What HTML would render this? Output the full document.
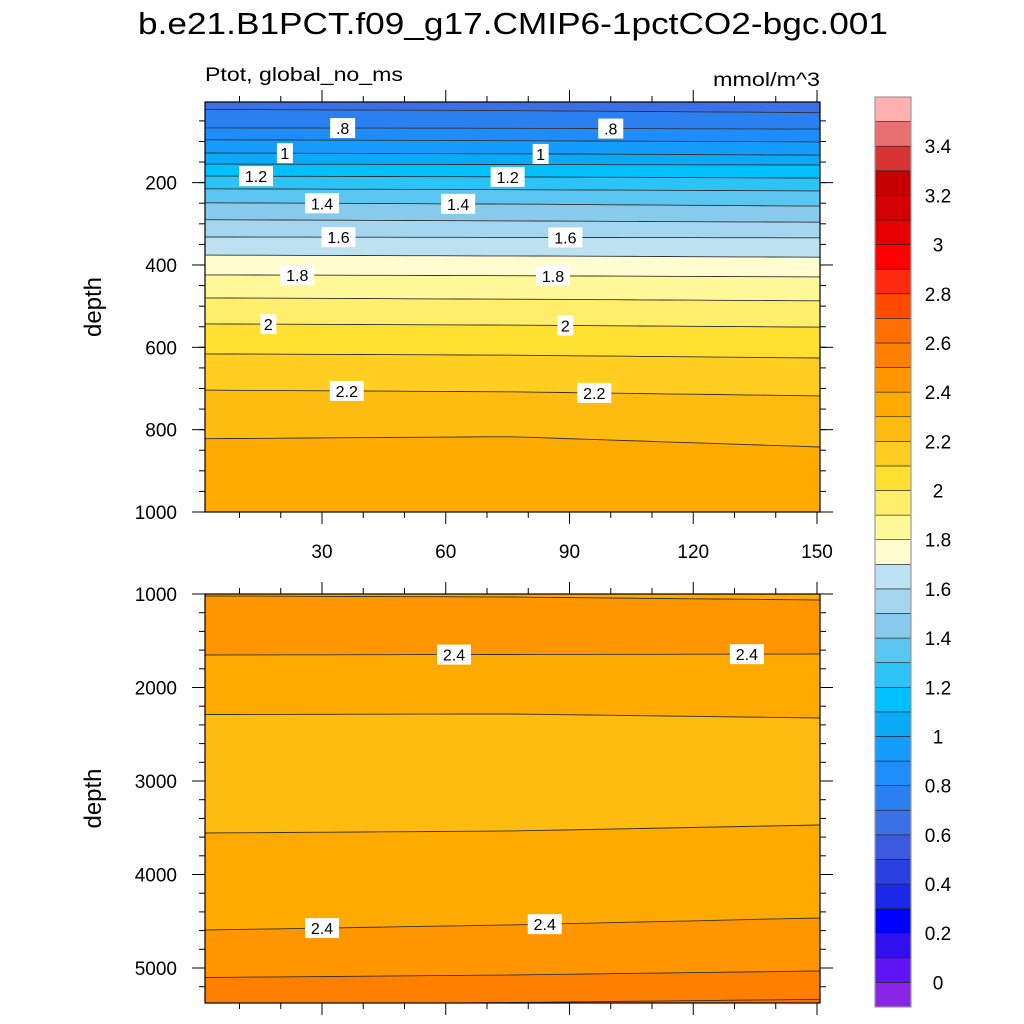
<!DOCTYPE html>
<html><head><meta charset="utf-8"><style>
html,body{margin:0;padding:0;background:#fff;}
svg{display:block;font-family:"Liberation Sans",Arial,sans-serif;}
</style></head><body>
<svg id="chart" width="1024" height="1024" viewBox="0 0 1024 1024" xmlns="http://www.w3.org/2000/svg">
<text x="138" y="34" font-size="31" textLength="750" lengthAdjust="spacingAndGlyphs">b.e21.B1PCT.f09_g17.CMIP6-1pctCO2-bgc.001</text>
<text x="205" y="81" font-size="19" textLength="198" lengthAdjust="spacingAndGlyphs">Ptot, global_no_ms</text>
<text x="713" y="86" font-size="19" textLength="107" lengthAdjust="spacingAndGlyphs">mmol/m^3</text>
<g id="top"></g>
<g id="bot"></g>
<g id="cbar"></g>
</svg>
<script>
// colour per band (index 0 = below 0, index k = [(k-1)*0.1, k*0.1))
const bandColors = ["#8a24e6","#6014f5","#3010ee","#0000ff","#1a28ea","#2a40e0","#3c5ae0","#3c70e6","#2a80f0","#1e8cfa","#149cff","#0aaaf8","#00c0ff","#2cc4f6","#5cc6f2","#88caec","#a4d6f0","#bce2f2","#fffdd0","#fff898","#ffee6a","#ffe030","#ffce20","#ffbc10","#ffaa00","#ff9600","#ff8000","#ff6e00","#ff4a00","#ff2a10","#ff0000","#e60000","#d20000","#c40000","#d83434","#e87070","#ffb0b0"];
const cbarLabels = ["0","0.2","0.4","0.6","0.8","1","1.2","1.4","1.6","1.8","2","2.2","2.4","2.6","2.8","3","3.2","3.4"];
const years = [1.5, 75, 150.6];
// upper panel contour lines: level and depth at left, mid, right
const topLevels = [0.7,0.8,0.9,1.0,1.1,1.2,1.3,1.4,1.5,1.6,1.7,1.8,1.9,2.0,2.1,2.2,2.3];
const topLeft  = [22,67,96,128,155,184,215,249,290,332,376,424,480,543,616,704,822];
const topMid   = [25,68,98,130,156,186,217,252,293,333,378,426,483,546,619,708,817];
const topRight = [30,70,101,133,157,189,220,257,296,334,381,429,487,551,626,718,842];
const topBelowBand = [8,9,10,11,12,13,14,15,16,17,18,19,20,21,22,23,24];
const topAboveBand = 7;
// lower panel contour lines
const botLevels = [2.4,2.4,2.3,2.3,2.4,2.5,2.6];
const botLeft  = [1021,1652,2289,3556,4594,5102,5390];
const botMid   = [1032,1647,2283,3535,4540,5075,5370];
const botRight = [1064,1642,2326,3471,4465,5032,5335];
const botBelowBand = [25,24,23,24,25,26,27];
const botAboveBand = 24;
const topLabels = [[35,".8",1],[100,".8",1],[21,"1",3],[83,"1",3],[14,"1.2",5],[75,"1.2",5],[30,"1.4",7],[63,"1.4",7],[34,"1.6",9],[89,"1.6",9],[24,"1.8",11],[86,"1.8",11],[17,"2",13],[89,"2",13],[36,"2.2",15],[96,"2.2",15]];
const botLabels = [[62,"2.4",1],[133,"2.4",1],[30,"2.4",4],[84,"2.4",4]];

const NS="http://www.w3.org/2000/svg";
function mk(parent,tag,attrs,txt){const e=document.createElementNS(NS,tag);for(const k in attrs)e.setAttribute(k,attrs[k]);if(txt!==undefined)e.textContent=txt;parent.appendChild(e);return e;}
const X0=205,X1=820;
function xs(yr){return 198.25+4.125*yr;}
function interp(yr,arrs,i){const l=arrs[0][i],m=arrs[1][i],r=arrs[2][i];
  if(yr<=75){return l+(m-l)*(yr-years[0])/(75-years[0]);}return m+(r-m)*(yr-75)/(years[2]-75);}

function panel(g,cfg){
  const {yTop,yBot,ys,arrs,aboveBand,belowBand,labels,yMajor,yMinor,yLabels,xLabels,name}=cfg;
  const clipId=name+"-clip";
  const cp=mk(g,"clipPath",{id:clipId});mk(cp,"rect",{x:X0,y:yTop,width:X1-X0,height:yBot-yTop});
  const fills=mk(g,"g",{"clip-path":`url(#${clipId})`});
  const bg=mk(fills,"rect",{x:X0,y:yTop,width:X1-X0,height:yBot-yTop,fill:bandColors[aboveBand]});
  
  
  const n=arrs[0].length;
  const lines=[];
  for(let i=0;i<n;i++){
    const pts=[];
    for(let s=0;s<=24;s++){const yr=years[0]+(years[2]-years[0])*s/24;pts.push([xs(yr),ys(interp(yr,arrs,i))]);}
    lines.push(pts);
    const poly=pts.map(p=>p[0].toFixed(1)+","+p[1].toFixed(1)).join(" ")+` ${X1+10},${yBot+20} ${X0-10},${yBot+20}`;
    const pg=mk(fills,"polygon",{points:poly,fill:bandColors[belowBand[i]]});
    
    
  }
  for(let i=0;i<n;i++){
    const pl=mk(fills,"polyline",{points:lines[i].map(p=>p[0].toFixed(1)+","+p[1].toFixed(1)).join(" "),fill:"none",stroke:"#333","stroke-width":"0.9"});
    
    
  }
  labels.forEach(([yr,t,i])=>{
    const x=xs(yr),y=ys(interp(yr,arrs,i));
    const w=t.length*9+7;
    const lg=mk(g,"g",{});
    
    
    mk(lg,"rect",{x:x-w/2,y:y-10,width:w,height:20,fill:"#fff"});
    mk(lg,"text",{x:x,y:y+6,"font-size":"16","text-anchor":"middle"},t);
  });
  const fr=mk(g,"rect",{x:X0,y:yTop,width:X1-X0,height:yBot-yTop,fill:"none",stroke:"#000","stroke-width":"1.2"});
  
  
  const tk=mk(g,"g",{stroke:"#000","stroke-width":"1"});
  for(let yr=10;yr<=150;yr+=10){const x=xs(yr);const L=yr%30===0?12:6;
    mk(tk,"line",{x1:x,y1:yTop,x2:x,y2:yTop-L});mk(tk,"line",{x1:x,y1:yBot,x2:x,y2:yBot+L});}
  yMinor.forEach(d=>{const y=ys(d);mk(tk,"line",{x1:X0,y1:y,x2:X0-6,y2:y});mk(tk,"line",{x1:X1,y1:y,x2:X1+6,y2:y});});
  yMajor.forEach(d=>{const y=ys(d);mk(tk,"line",{x1:X0,y1:y,x2:X0-13,y2:y});mk(tk,"line",{x1:X1,y1:y,x2:X1+13,y2:y});});
  yLabels.forEach((t,i)=>{const t1=mk(g,"text",{x:177,y:ys(yMajor[i])+7,"font-size":"19","text-anchor":"end"},t);
    
    });
  if(xLabels){xLabels.forEach(([yr,t])=>{const t2=mk(g,"text",{x:xs(yr),y:yBot+46,"font-size":"19","text-anchor":"middle"},t);
    
    });}
  const yt=mk(g,"text",{x:101,y:(yTop+yBot)/2,"font-size":"24","text-anchor":"middle",transform:`rotate(-90 101 ${(yTop+yBot)/2})`},"depth");
  
  
}

const topMajor=[200,400,600,800,1000], topMinor=[];
for(let d=50;d<=1000;d+=50)topMinor.push(d);
panel(document.getElementById("top"),{name:"upper",yTop:102,yBot:512,ys:d=>100.3+0.4117*d,
  arrs:[topLeft,topMid,topRight],aboveBand:topAboveBand,belowBand:topBelowBand,labels:topLabels,
  yMajor:topMajor,yMinor:topMinor,yLabels:["200","400","600","800","1000"],
  xLabels:[[30,"30"],[60,"60"],[90,"90"],[120,"120"],[150,"150"]]});
const botMajor=[1000,2000,3000,4000,5000], botMinor=[];
for(let d=1000;d<=5300;d+=200)botMinor.push(d);
panel(document.getElementById("bot"),{name:"lower",yTop:594,yBot:1003,ys:d=>500.5+0.0935*d,
  arrs:[botLeft,botMid,botRight],aboveBand:botAboveBand,belowBand:botBelowBand,labels:botLabels,
  yMajor:botMajor,yMinor:botMinor,yLabels:["1000","2000","3000","4000","5000"],xLabels:null});

// colorbar
const cb=document.getElementById("cbar");
const cbTop=97,cbBot=1007,nb=bandColors.length,bh=(cbBot-cbTop)/nb;
bandColors.forEach((c,k)=>{const y=cbBot-(k+1)*bh;
  const r=mk(cb,"rect",{x:875,y:y,width:36,height:bh,fill:c,stroke:"#222","stroke-width":"0.6"});
  
  });
mk(cb,"rect",{x:875,y:cbTop,width:36,height:cbBot-cbTop,fill:"none",stroke:"#999","stroke-width":"1.2"});
cbarLabels.forEach((t,i)=>{const y=cbBot-(1+2*i)*bh;
  const tl=mk(cb,"text",{x:938,y:y+7,"font-size":"19","text-anchor":"middle"},t);
  
  });
</script>
</body></html>
